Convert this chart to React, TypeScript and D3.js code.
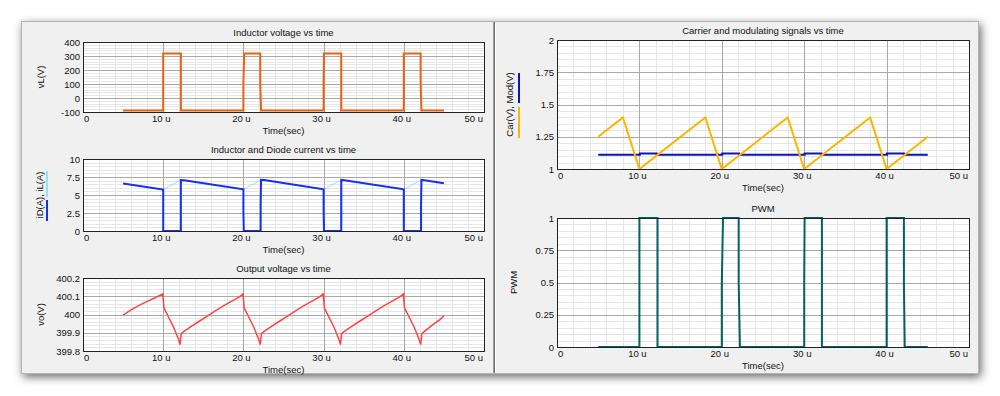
import React, { useRef, useEffect } from 'react';
import * as d3 from 'd3';

type Pt = [number, number];

// time axis (micro seconds)
const timeTicks = [0, 10, 20, 30, 40, 50];
const timeLabels = ['0', '10 u', '20 u', '30 u', '40 u', '50 u'];

const vLTicks = [-100, 0, 100, 200, 300, 400];
const currentTicks = [0, 2.5, 5, 7.5, 10];
const voTicks = [399.8, 399.9, 400, 400.1, 400.2];
const carTicks = [1, 1.25, 1.5, 1.75, 2];
const pwmTicks = [0, 0.25, 0.5, 0.75, 1];

// inductor voltage vL(V)
const vL: Pt[] = [
    [5, -90], [10, -90], [10, 318], [12.2, 318], [12.2, -90],
    [20, -90], [20, 110], [20.1, 318], [22.1, 318], [22.1, 110], [22.2, -90],
    [30, -90], [30, 110], [30.05, 318], [32.2, 318], [32.2, -90],
    [40, -90], [40, 318], [42.1, 318], [42.1, 110], [42.2, -90], [45, -90],
];

// inductor current iL(A)
const iL: Pt[] = [
    [5, 6.6], [10, 5.75], [12.2, 7.08], [20, 5.78], [22.2, 7.12],
    [30, 5.78], [32.2, 7.1], [40, 5.78], [42.2, 7.1], [45, 6.62],
];

// diode current iD(A)
const iD: Pt[] = [
    [5, 6.6], [10, 5.75], [10, 0], [12.2, 0], [12.2, 7.08], [12.6, 7.05],
    [20, 5.78], [20, 2.7], [20.05, 0], [22.15, 0], [22.15, 3.5], [22.2, 7.12], [22.6, 7.08],
    [30, 5.78], [30, 2.8], [30.05, 0], [32.2, 0], [32.2, 7.1], [32.6, 7.06],
    [40, 5.78], [40, 0], [42.15, 0], [42.15, 3.5], [42.2, 7.1], [42.6, 7.06], [45, 6.62],
];

// output voltage vo(V)
const vo: Pt[] = [
    [5, 399.997], [6, 400.025], [7, 400.05], [8, 400.072], [9, 400.092], [9.95, 400.113],
    [10.1, 400.035], [11.3, 399.93], [11.9, 399.865], [12.1, 399.835], [12.25, 399.895],
    [12.5, 399.905], [13.5, 399.935], [14.5, 399.963], [15.5, 399.991], [16.5, 400.02],
    [17.5, 400.047], [18.5, 400.072], [19.5, 400.097], [19.95, 400.113],
    [20.1, 400.035], [21.3, 399.93], [21.9, 399.865], [22.1, 399.835], [22.25, 399.895],
    [22.5, 399.905], [23.5, 399.935], [24.5, 399.963], [25.5, 399.991], [26.5, 400.02],
    [27.5, 400.047], [28.5, 400.072], [29.5, 400.097], [29.95, 400.113],
    [30.1, 400.035], [31.3, 399.93], [31.9, 399.865], [32.1, 399.835], [32.25, 399.895],
    [32.5, 399.905], [33.5, 399.935], [34.5, 399.963], [35.5, 399.991], [36.5, 400.02],
    [37.5, 400.047], [38.5, 400.072], [39.5, 400.097], [39.95, 400.113],
    [40.1, 400.035], [41.3, 399.93], [41.9, 399.865], [42.1, 399.835], [42.25, 399.895],
    [42.5, 399.905], [43.5, 399.94], [44.5, 399.972], [45, 399.993],
];

// carrier and modulating signals
const carrier: Pt[] = [
    [5, 1.25], [8, 1.4], [10, 1.0], [18, 1.4], [20, 1.0], [28, 1.4],
    [30, 1.0], [38, 1.4], [40, 1.0], [45, 1.25],
];
const modulating: Pt[] = [
    [5, 1.11], [10.05, 1.11], [10.05, 1.12], [12.1, 1.12], [12.1, 1.11],
    [20.05, 1.11], [20.05, 1.12], [22.1, 1.12], [22.1, 1.11],
    [30.05, 1.11], [30.05, 1.12], [32.1, 1.12], [32.1, 1.11],
    [40.05, 1.11], [40.05, 1.12], [42.1, 1.12], [42.1, 1.11], [45, 1.11],
];

// gate signal
const pwm: Pt[] = [
    [5, 0], [10, 0], [10, 1], [12.2, 1], [12.2, 0],
    [20, 0], [20, 0.5], [20.15, 1], [22.05, 1], [22.05, 0.5], [22.2, 0],
    [30, 0], [30, 0.5], [30.05, 1], [32.15, 1], [32.15, 0],
    [40, 0], [40, 1], [42.1, 1], [42.1, 0.5], [42.2, 0], [45, 0],
];

type Series = { data: Pt[]; color: string; width: number };
type PlotCfg = {
    left: number; right: number; top: number; bottom: number;
    ticks: number[]; title: string; ylabel: string; ylabelX: number;
    series: Series[];
    legend?: { color: string; from: number; to: number }[];
    legendX?: number;
};

const FONT = "'Liberation Sans', Arial, sans-serif";

const drawPlot = (svg: d3.Selection<SVGSVGElement, unknown, null, undefined>, cfg: PlotCfg) => {
    const x = d3.scaleLinear().domain([0, 50]).range([cfg.left, cfg.right]);
    const y = d3.scaleLinear()
        .domain([cfg.ticks[0], cfg.ticks[cfg.ticks.length - 1]])
        .range([cfg.bottom, cfg.top]);

    const g = svg.append('g');

    g.append('rect')
        .attr('x', cfg.left).attr('y', cfg.top)
        .attr('width', cfg.right - cfg.left).attr('height', cfg.bottom - cfg.top)
        .attr('fill', '#fff');

    // minor grid, 5 per major interval
    const minorX: number[] = [];
    for (let i = 0; i < timeTicks.length - 1; i++) {
        const step = (timeTicks[i + 1] - timeTicks[i]) / 5;
        for (let k = 1; k < 5; k++) minorX.push(timeTicks[i] + k * step);
    }
    const minorY: number[] = [];
    for (let i = 0; i < cfg.ticks.length - 1; i++) {
        const step = (cfg.ticks[i + 1] - cfg.ticks[i]) / 5;
        for (let k = 1; k < 5; k++) minorY.push(cfg.ticks[i] + k * step);
    }
    g.selectAll('.mx').data(minorX).join('line')
        .attr('x1', d => Math.round(x(d)) + 0.5).attr('x2', d => Math.round(x(d)) + 0.5)
        .attr('y1', cfg.top).attr('y2', cfg.bottom)
        .attr('stroke', '#e6e6e6');
    g.selectAll('.my').data(minorY).join('line')
        .attr('x1', cfg.left).attr('x2', cfg.right)
        .attr('y1', d => Math.round(y(d)) + 0.5).attr('y2', d => Math.round(y(d)) + 0.5)
        .attr('stroke', '#e6e6e6');

    // major grid
    g.selectAll('.gx').data(timeTicks.slice(1, -1)).join('line')
        .attr('x1', d => Math.round(x(d)) + 0.5).attr('x2', d => Math.round(x(d)) + 0.5)
        .attr('y1', cfg.top).attr('y2', cfg.bottom)
        .attr('stroke', '#a8a8a8');
    g.selectAll('.gy').data(cfg.ticks.slice(1, -1)).join('line')
        .attr('x1', cfg.left).attr('x2', cfg.right)
        .attr('y1', d => Math.round(y(d)) + 0.5).attr('y2', d => Math.round(y(d)) + 0.5)
        .attr('stroke', '#a8a8a8');

    // curves
    const line = d3.line<Pt>().x(d => x(d[0])).y(d => y(d[1]));
    cfg.series.forEach(s => {
        g.append('path')
            .attr('d', line(s.data))
            .attr('fill', 'none')
            .attr('stroke', s.color)
            .attr('stroke-width', s.width);
    });

    // frame
    g.append('rect')
        .attr('x', cfg.left + 0.5).attr('y', cfg.top + 0.5)
        .attr('width', cfg.right - cfg.left).attr('height', cfg.bottom - cfg.top)
        .attr('fill', 'none').attr('stroke', '#222');

    const txt = g.append('g').attr('font-family', FONT).attr('font-size', 9.5).attr('fill', '#111');

    // title
    txt.append('text')
        .attr('x', (cfg.left + cfg.right) / 2).attr('y', cfg.top - 6)
        .attr('text-anchor', 'middle').text(cfg.title);

    // y tick labels
    txt.selectAll('.yl').data(cfg.ticks).join('text')
        .attr('x', cfg.left - 3).attr('y', d => y(d) + 3.5)
        .attr('text-anchor', 'end').text(d => String(d));

    // x tick labels
    txt.selectAll('.xl').data(timeTicks).join('text')
        .attr('x', (d, i) => i === 0 ? x(d) + 1 : i === timeTicks.length - 1 ? x(d) - 1 : x(d) - 2)
        .attr('y', cfg.bottom + 10)
        .attr('text-anchor', (d, i) => i === 0 ? 'start' : i === timeTicks.length - 1 ? 'end' : 'middle')
        .text((d, i) => timeLabels[i]);

    txt.append('text')
        .attr('x', (cfg.left + cfg.right) / 2).attr('y', cfg.bottom + 22)
        .attr('text-anchor', 'middle').text('Time(sec)');

    // y axis label
    const cy = (cfg.top + cfg.bottom) / 2;
    txt.append('text')
        .attr('transform', `translate(${cfg.ylabelX + 3.5},${cy}) rotate(-90)`)
        .attr('text-anchor', 'middle').text(cfg.ylabel);

    if (cfg.legend) {
        g.selectAll('.lg').data(cfg.legend).join('line')
            .attr('x1', cfg.legendX!).attr('x2', cfg.legendX!)
            .attr('y1', d => d.from).attr('y2', d => d.to)
            .attr('stroke', d => d.color).attr('stroke-width', 2);
    }
};

const App = () => {
    const svgRef = useRef<SVGSVGElement | null>(null);

    useEffect(() => {
        const svg = d3.select(svgRef.current!);
        svg.selectAll('*').remove();

        const defs = svg.append('defs');
        const f = defs.append('filter').attr('id', 'shadow')
            .attr('x', '-5%').attr('y', '-10%').attr('width', '110%').attr('height', '125%');
        f.append('feDropShadow').attr('dx', 2).attr('dy', 3).attr('stdDeviation', 5)
            .attr('flood-color', '#000').attr('flood-opacity', 0.6);

        svg.append('rect').attr('width', 1000).attr('height', 396).attr('fill', '#fff');

        // window
        svg.append('rect')
            .attr('x', 21).attr('y', 21).attr('width', 958).attr('height', 353)
            .attr('fill', '#f0f0f0').attr('filter', 'url(#shadow)');
        svg.append('rect')
            .attr('x', 21.5).attr('y', 21.5).attr('width', 957).attr('height', 352)
            .attr('fill', 'none').attr('stroke', '#b4b4b4');
        svg.append('line').attr('x1', 493.5).attr('x2', 493.5).attr('y1', 22).attr('y2', 373)
            .attr('stroke', '#a0a0a0');
        svg.append('line').attr('x1', 494.5).attr('x2', 494.5).attr('y1', 22).attr('y2', 373)
            .attr('stroke', '#6e6e6e');
        svg.append('line').attr('x1', 495.5).attr('x2', 495.5).attr('y1', 22).attr('y2', 373)
            .attr('stroke', '#fff');

        drawPlot(svg, {
            left: 83, right: 484, top: 42, bottom: 112, ticks: vLTicks,
            title: 'Inductor voltage vs time', ylabel: 'vL(V)', ylabelX: 40,
            series: [{ data: vL, color: '#e8630f', width: 2 }],
        });
        drawPlot(svg, {
            left: 83, right: 484, top: 159, bottom: 231, ticks: currentTicks,
            title: 'Inductor and Diode current vs time', ylabel: 'iD(A), iL(A)', ylabelX: 39,
            series: [
                { data: iL, color: '#8ee4f2', width: 1 },
                { data: iD, color: '#1430f0', width: 2 },
            ],
            legend: [
                { color: '#8ee4f2', from: 171, to: 197 },
                { color: '#1430f0', from: 200, to: 221 },
            ],
            legendX: 47,
        });
        drawPlot(svg, {
            left: 83, right: 484, top: 278, bottom: 351, ticks: voTicks,
            title: 'Output voltage vs time', ylabel: 'vo(V)', ylabelX: 40,
            series: [{ data: vo, color: '#ff4343', width: 1.5 }],
        });
        drawPlot(svg, {
            left: 557, right: 969, top: 40, bottom: 169, ticks: carTicks,
            title: 'Carrier and modulating signals vs time', ylabel: 'Car(V), Mod(V)', ylabelX: 509,
            series: [
                { data: modulating, color: '#0c16b4', width: 2 },
                { data: carrier, color: '#ffb400', width: 2 },
            ],
            legend: [
                { color: '#0c16b4', from: 73, to: 103 },
                { color: '#ffb400', from: 107, to: 138 },
            ],
            legendX: 519,
        });
        drawPlot(svg, {
            left: 557, right: 969, top: 218, bottom: 347, ticks: pwmTicks,
            title: 'PWM', ylabel: 'PWM', ylabelX: 513,
            series: [{ data: pwm, color: '#006464', width: 2 }],
        });
    }, []);

    return (
        <svg
            ref={svgRef}
            width={1000}
            height={396}
            style={{ position: 'absolute', left: 0, top: 0, display: 'block' }}
        />
    );
};

export default App;
